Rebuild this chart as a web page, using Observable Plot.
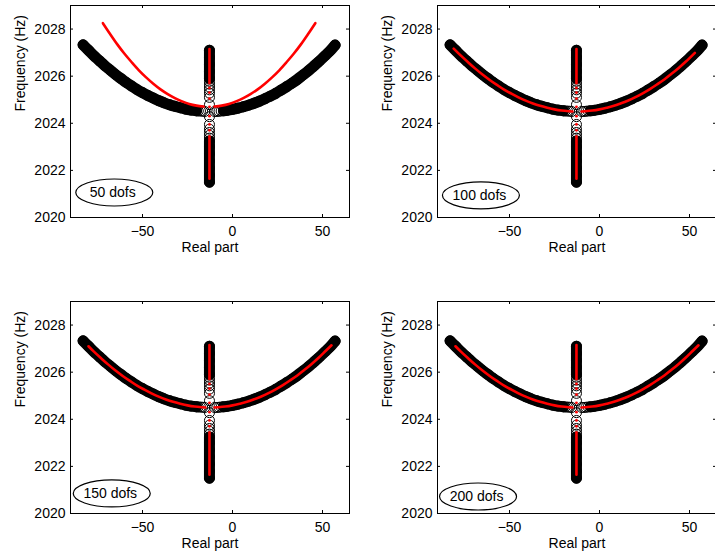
<!DOCTYPE html>
<html><head><meta charset="utf-8">
<script src="https://cdn.jsdelivr.net/npm/d3@7"></script>
<script src="https://cdn.jsdelivr.net/npm/@observablehq/plot@0.6"></script>
<style>
html,body{margin:0;padding:0;background:#fff;overflow:hidden;width:715px;height:560px}
#root{position:relative;width:715px;height:560px;overflow:hidden}
#root svg{position:absolute;overflow:visible}
</style></head><body><div id="root"></div>
<script>
// ---- axes ----
const xDomain = [-90, 65];
const yDomain = [2020, 2029];
const xTicks = [-50, 0, 50];
const yTicks = [2020, 2022, 2024, 2026, 2028];
const xLabel = "Real part";
const yLabel = "Frequency (Hz)";

// ---- panel annotations ----
const panelLabels = ["50 dofs", "100 dofs", "150 dofs", "200 dofs"];
const panelLabelX = [-65.4, -65.6, -66.8, -67.2];
const panelLabelY = [2021.04, 2020.92, 2020.83, 2020.70];

// ---- reference (black circles) loci, same in every panel ----
const blackLeftBandX = [-83,-80,-77,-74,-71,-68,-65,-62,-59,-56,-53,-50,-47,-44,-41,-38,-35,-32,-29,-26,-23,-20];
const blackLeftBandY = [2027.33,2027.10,2026.87,2026.66,2026.45,2026.26,2026.07,2025.90,2025.73,2025.58,2025.43,2025.30,2025.18,2025.07,2024.96,2024.87,2024.79,2024.72,2024.66,2024.60,2024.56,2024.53];
const blackLeftRingX = [-19, -17.8, -16.6, -15.4];
const blackLeftRingY = [2024.52, 2024.52, 2024.51, 2024.50];
const blackRightBandX = [57,54,51,48,45,42,39,36,33,30,27,24,21,18,15,12,9,6,3,0,-3,-5];
const blackRightBandY = [2027.32,2027.06,2026.84,2026.62,2026.42,2026.22,2026.04,2025.86,2025.70,2025.55,2025.41,2025.27,2025.15,2025.04,2024.94,2024.85,2024.77,2024.70,2024.64,2024.59,2024.55,2024.53];
const blackRightRingX = [-6.3, -7.5, -8.7, -9.9];
const blackRightRingY = [2024.52, 2024.51, 2024.50, 2024.50];
const blackVertX = -12.8;
const blackUpperBandY = [2027.1, 2026.8, 2026.5, 2026.2, 2025.9];
const blackUpperRingY = [2025.78, 2025.66, 2025.54, 2025.42, 2025.28, 2025.1, 2024.79];
const blackLowerBandY = [2021.5, 2021.8, 2022.1, 2022.4, 2022.7, 2023.0, 2023.25];
const blackLowerRingY = [2023.37, 2023.49, 2023.61, 2023.75, 2023.95, 2024.28];

// ---- approximations (red), per panel ----
const red1LeftX = [-72,-68,-64,-60,-56,-52,-48,-44,-40,-36,-32,-28,-24,-20,-16];
const red1LeftY = [2028.25,2027.79,2027.35,2026.95,2026.59,2026.25,2025.95,2025.68,2025.44,2025.24,2025.07,2024.93,2024.82,2024.75,2024.71];
const red1RightX = [-10,-6,-2,2,6,10,14,18,22,26,30,34,38,42,46];
const red1RightY = [2024.71,2024.75,2024.82,2024.93,2025.07,2025.24,2025.44,2025.68,2025.95,2026.25,2026.59,2026.95,2027.35,2027.79,2028.25];

const red2LeftX = [-81,-77,-73,-69,-65,-61,-57,-53,-49,-45,-41,-37,-33,-29,-25,-21,-17,-15];
const red2LeftY = [2027.17,2026.87,2026.59,2026.32,2026.07,2025.84,2025.63,2025.43,2025.26,2025.10,2024.96,2024.84,2024.74,2024.66,2024.59,2024.54,2024.51,2024.50];
const red2RightX = [-10,-8,-4,0,4,8,12,16,20,24,28,32,36,40,44,48,53];
const red2RightY = [2024.50,2024.51,2024.54,2024.59,2024.66,2024.74,2024.85,2024.97,2025.11,2025.27,2025.45,2025.65,2025.86,2026.10,2026.35,2026.62,2026.99];

const red3LeftX = [-80,-77,-73,-69,-65,-61,-57,-53,-49,-45,-41,-37,-33,-29,-25,-21,-17,-15];
const red3LeftY = [2027.10,2026.87,2026.59,2026.32,2026.07,2025.84,2025.63,2025.43,2025.26,2025.10,2024.96,2024.84,2024.74,2024.66,2024.59,2024.54,2024.51,2024.50];
const red3RightX = [-10,-8,-4,0,4,8,12,16,20,24,28,32,36,40,44,48,52,55];
const red3RightY = [2024.50,2024.51,2024.54,2024.59,2024.66,2024.74,2024.85,2024.97,2025.11,2025.27,2025.45,2025.65,2025.86,2026.10,2026.35,2026.62,2026.92,2027.14];

const red4LeftX = [-80,-77,-73,-69,-65,-61,-57,-53,-49,-45,-41,-37,-33,-29,-25,-21,-17,-15];
const red4LeftY = [2027.10,2026.87,2026.59,2026.32,2026.07,2025.84,2025.63,2025.43,2025.26,2025.10,2024.96,2024.84,2024.74,2024.66,2024.59,2024.54,2024.51,2024.50];
const red4RightX = [-10,-8,-4,0,4,8,12,16,20,24,28,32,36,40,44,48,52,55];
const red4RightY = [2024.50,2024.51,2024.54,2024.59,2024.66,2024.74,2024.85,2024.97,2025.11,2025.27,2025.45,2025.65,2025.86,2026.10,2026.35,2026.62,2026.92,2027.14];

const redVertX = -12.8;
const redUpperY = [2027.15, 2026.6, 2026.1, 2025.7];
const redLowerY = [2021.65, 2022.2, 2022.8, 2023.45];
const redDotY = [2025.5, 2025.3, 2025.05, 2024.7, 2024.3, 2023.95, 2023.7];

const redLeftX = [red1LeftX, red2LeftX, red3LeftX, red4LeftX];
const redLeftY = [red1LeftY, red2LeftY, red3LeftY, red4LeftY];
const redRightX = [red1RightX, red2RightX, red3RightX, red4RightX];
const redRightY = [red1RightY, red2RightY, red3RightY, red4RightY];

// ---- helpers ----
const pts = (xs, ys) => ys.map((y, i) => ({x: Array.isArray(xs) ? xs[i] : xs, y}));
const positions = [[0, 0], [367, 0], [0, 296], [367, 296]];
const W = 357, H = 260, ML = 70, MR = 8, MT = 5, MB = 43;
const innerW = W - ML - MR, innerH = H - MT - MB;
const TL = 3;
const fmt = d3.format("d");

const root = document.getElementById("root");

for (let p = 0; p < 4; p++) {
  const bandStyle = {x: "x", y: "y", stroke: "#000", strokeWidth: 11, strokeLinecap: "round", strokeLinejoin: "round", curve: "catmull-rom"};
  const ringStyle = {x: "x", y: "y", r: 5, stroke: "#000", strokeWidth: 1, fill: "none"};
  const redStyle = {x: "x", y: "y", stroke: "#ff0000", strokeWidth: 2.6, strokeLinecap: "round", curve: "catmull-rom"};
  const bands = [pts(blackLeftBandX, blackLeftBandY), pts(blackRightBandX, blackRightBandY), pts(blackVertX, blackUpperBandY), pts(blackVertX, blackLowerBandY)];
  const rings = [
    ...pts(blackLeftBandX, blackLeftBandY), ...pts(blackRightBandX, blackRightBandY),
    ...pts(blackVertX, blackUpperBandY), ...pts(blackVertX, blackLowerBandY),
    ...pts(blackLeftRingX, blackLeftRingY), ...pts(blackRightRingX, blackRightRingY),
    ...pts(blackVertX, blackUpperRingY), ...pts(blackVertX, blackLowerRingY)
  ];
  const reds = [pts(redLeftX[p], redLeftY[p]), pts(redRightX[p], redRightY[p]), pts(redVertX, redUpperY), pts(redVertX, redLowerY)];

  const plot = Plot.plot({
    width: W, height: H,
    marginLeft: ML, marginRight: MR, marginTop: MT, marginBottom: MB,
    style: {fontSize: "14px", fontFamily: "'Liberation Sans', Arial, Helvetica, sans-serif", background: "transparent", color: "#000"},
    x: {domain: xDomain, ticks: xTicks, tickFormat: fmt, tickSize: 0, tickPadding: 9, label: null},
    y: {domain: yDomain, ticks: yTicks, tickFormat: fmt, tickSize: 0, tickPadding: 5, label: null},
    marks: [
      ...bands.map(b => Plot.line(b, bandStyle)),
      Plot.dot(rings, ringStyle),
      ...reds.map(r => Plot.line(r, redStyle)),
      Plot.dot(pts(redVertX, redDotY), {x: "x", y: "y", r: 1.4, fill: "#ff0000", stroke: "none"}),
      Plot.frame({stroke: "#000", strokeWidth: 1}),
      Plot.tickX(xTicks, {x: d => d, insetTop: innerH - TL, stroke: "#000"}),
      Plot.tickX(xTicks, {x: d => d, insetBottom: innerH - TL, stroke: "#000"}),
      Plot.tickY(yTicks, {y: d => d, insetRight: innerW - TL, stroke: "#000"}),
      Plot.tickY(yTicks, {y: d => d, insetLeft: innerW - TL, stroke: "#000"}),
      Plot.text([xLabel], {text: d => d, frameAnchor: "bottom", dy: 30, lineAnchor: "middle", fontSize: 14, fill: "#000"}),
      Plot.text([yLabel], {text: d => d, frameAnchor: "left", dx: -49.5, rotate: -90, lineAnchor: "middle", fontSize: 14, fill: "#000"}),
      Plot.text([panelLabels[p]], {text: d => d, x: () => panelLabelX[p], y: () => panelLabelY[p], dx: -2, fontSize: 14, fill: "#000"})
    ]
  });
  const sx = plot.scale("x"), sy = plot.scale("y");
  d3.select(plot).append("ellipse")
    .attr("cx", sx.apply(panelLabelX[p]))
    .attr("cy", sy.apply(panelLabelY[p]))
    .attr("rx", 38.5).attr("ry", 13.5)
    .attr("fill", "none").attr("stroke", "#000").attr("stroke-width", 1.2);
  plot.style.left = positions[p][0] + "px";
  plot.style.top = positions[p][1] + "px";
  root.appendChild(plot);
}
</script>
</body></html>
